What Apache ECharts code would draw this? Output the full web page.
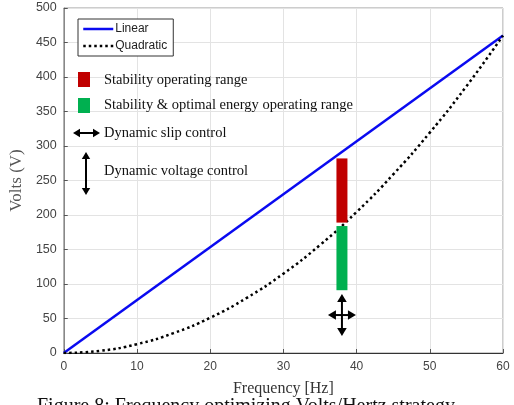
<!DOCTYPE html>
<html>
<head>
<meta charset="utf-8">
<script src="https://cdn.jsdelivr.net/npm/echarts@6/dist/echarts.min.js"></script>
<style>html,body{margin:0;padding:0;background:#fff;}#c{width:514px;height:405px;}</style>
</head>
<body>
<div id="c"></div>
<script>
// ---- data ----
var linearFreq = [0, 60];
var linearVolts = [0, 460];
var quadFreq = [0, 5, 10, 15, 20, 25, 30, 35, 40, 45, 50, 55, 60];
var quadVolts = [0, 3.2, 12.8, 28.8, 51.1, 79.9, 115, 156.5, 204.4, 258.8, 319.4, 386.5, 460];
var rangeFreq = [38, 38];
var rangeLow = [189, 91];
var rangeHigh = [282, 184];
var rangeNames = ['Stability operating range', 'Stability & optimal energy operating range'];
var rangeColors = ['#c00000', '#00b050'];
var crossFreq = [38];
var crossVolts = [55];
var xTicks = [0, 10, 20, 30, 40, 50, 60];
var yTicks = [0, 50, 100, 150, 200, 250, 300, 350, 400, 450, 500];

var serif = '"Liberation Serif", "Times New Roman", serif';
var sans = '"Liberation Sans", Arial, sans-serif';

var chart = echarts.init(document.getElementById('c'));

function zip(a, b) { return a.map(function (v, i) { return [v, b[i]]; }); }

var rangeData = rangeFreq.map(function (f, i) { return [f, rangeLow[i], rangeHigh[i], i]; });

function arrowHead(x, y, dir, s) {
  var pts;
  if (dir === 'up') pts = [[x, y], [x - s * 0.6, y + s], [x + s * 0.6, y + s]];
  if (dir === 'down') pts = [[x, y], [x - s * 0.6, y - s], [x + s * 0.6, y - s]];
  if (dir === 'left') pts = [[x, y], [x + s, y - s * 0.6], [x + s, y + s * 0.6]];
  if (dir === 'right') pts = [[x, y], [x - s, y - s * 0.6], [x - s, y + s * 0.6]];
  return { type: 'polygon', z: 100, shape: { points: pts }, style: { fill: '#000' } };
}

var annFont = '14.5px ' + serif;

var option = {
  animation: false,
  grid: { left: 63, right: 11, top: 8, bottom: 52, show: true, borderColor: '#9a9a9a', borderWidth: 1 },
  xAxis: {
    type: 'value', min: 0, max: 60, interval: 10,
    name: 'Frequency [Hz]', nameLocation: 'middle', nameGap: 28,
    nameTextStyle: { fontFamily: serif, fontSize: 16, color: '#333' },
    axisLine: { show: true, lineStyle: { color: '#333', width: 1 } },
    axisTick: { show: true, inside: true, length: 4, lineStyle: { color: '#555' } },
    axisLabel: { fontFamily: sans, fontSize: 12, color: '#444', margin: 8,
      formatter: function (v) { return xTicks.indexOf(v) >= 0 ? String(v) : ''; } },
    splitLine: { show: true, lineStyle: { color: '#e3e3e3', width: 1 } }
  },
  yAxis: {
    type: 'value', min: 0, max: 500, interval: 50,
    name: 'Volts (V)', nameLocation: 'middle', nameGap: 33, nameRotate: 90,
    nameTextStyle: { fontFamily: serif, fontSize: 17, color: '#555' },
    axisLine: { show: true, lineStyle: { color: '#888', width: 1 } },
    axisTick: { show: true, inside: true, length: 4, lineStyle: { color: '#555' } },
    axisLabel: { fontFamily: sans, fontSize: 12.5, color: '#444', margin: 7,
      formatter: function (v) { return yTicks.indexOf(v) >= 0 ? String(v) : ''; } },
    splitLine: { show: true, lineStyle: { color: '#e3e3e3', width: 1 } }
  },
  legend: {
    left: 78, top: 19, orient: 'vertical',
    data: ['Linear', 'Quadratic'],
    itemWidth: 30, itemHeight: 10, itemGap: 5,
    padding: [4, 6, 4, 4],
    itemStyle: { opacity: 0 },
    lineStyle: { width: 2.5 },
    borderColor: '#333', borderWidth: 1, borderRadius: 0, backgroundColor: '#fff',
    textStyle: { fontFamily: sans, fontSize: 12, color: '#222', padding: [0, 0, 0, -3] }
  },
  series: [
    {
      name: 'Linear', type: 'line', data: zip(linearFreq, linearVolts),
      symbol: 'none', lineStyle: { color: '#0a0af0', width: 2.5 }, itemStyle: { color: '#0a0af0' }, z: 3
    },
    {
      name: 'Quadratic', type: 'line', data: zip(quadFreq, quadVolts), smooth: true,
      symbol: 'none', lineStyle: { color: '#000', width: 2.5, type: [2.5, 3] }, itemStyle: { color: '#000' }, z: 3
    },
    {
      name: 'ranges', type: 'custom', data: rangeData, z: 4,
      renderItem: function (params, api) {
        var top = api.coord([api.value(0), api.value(2)]);
        var bot = api.coord([api.value(0), api.value(1)]);
        var w = 11;
        return {
          type: 'rect',
          shape: { x: top[0] - w / 2, y: top[1], width: w, height: bot[1] - top[1] },
          style: { fill: rangeColors[api.value(3)] }
        };
      }
    },
    {
      name: 'cross', type: 'custom', data: zip(crossFreq, crossVolts), z: 5,
      renderItem: function (params, api) {
        var c = api.coord([api.value(0), api.value(1)]);
        var x = c[0], y = c[1];
        return {
          type: 'group',
          children: [
            { type: 'line', shape: { x1: x, y1: y - 18, x2: x, y2: y + 18 }, style: { stroke: '#000', lineWidth: 2 } },
            { type: 'line', shape: { x1: x - 11, y1: y, x2: x + 11, y2: y }, style: { stroke: '#000', lineWidth: 2 } },
            arrowHead(x, y - 21, 'up', 8),
            arrowHead(x, y + 21, 'down', 8),
            arrowHead(x - 14, y, 'left', 8),
            arrowHead(x + 14, y, 'right', 8)
          ]
        };
      }
    }
  ],
  graphic: [
    { type: 'rect', z: 100, shape: { x: 78, y: 72, width: 12, height: 15 }, style: { fill: rangeColors[0] } },
    { type: 'text', z: 100, x: 104, y: 80, style: { text: rangeNames[0], font: annFont, fill: '#111', textVerticalAlign: 'middle' } },
    { type: 'rect', z: 100, shape: { x: 78, y: 98, width: 12, height: 15 }, style: { fill: rangeColors[1] } },
    { type: 'text', z: 100, x: 104, y: 105, style: { text: rangeNames[1], font: annFont, fill: '#111', textVerticalAlign: 'middle' } },
    { type: 'line', z: 100, shape: { x1: 78, y1: 133, x2: 95, y2: 133 }, style: { stroke: '#000', lineWidth: 2 } },
    arrowHead(73, 133, 'left', 7),
    arrowHead(100, 133, 'right', 7),
    { type: 'text', z: 100, x: 104, y: 133, style: { text: 'Dynamic slip control', font: annFont, fill: '#111', textVerticalAlign: 'middle' } },
    { type: 'line', z: 100, shape: { x1: 86, y1: 158, x2: 86, y2: 189 }, style: { stroke: '#000', lineWidth: 2 } },
    arrowHead(86, 152, 'up', 7),
    arrowHead(86, 195, 'down', 7),
    { type: 'text', z: 100, x: 104, y: 171, style: { text: 'Dynamic voltage control', font: annFont, fill: '#111', textVerticalAlign: 'middle' } },
    { type: 'text', z: 100, x: 37, y: 397, style: { text: 'Figure 8: Frequency optimizing Volts/Hertz strategy', font: '20px ' + serif, fill: '#111', textVerticalAlign: 'top' } }
  ]
};
chart.setOption(option);
</script>
</body>
</html>
